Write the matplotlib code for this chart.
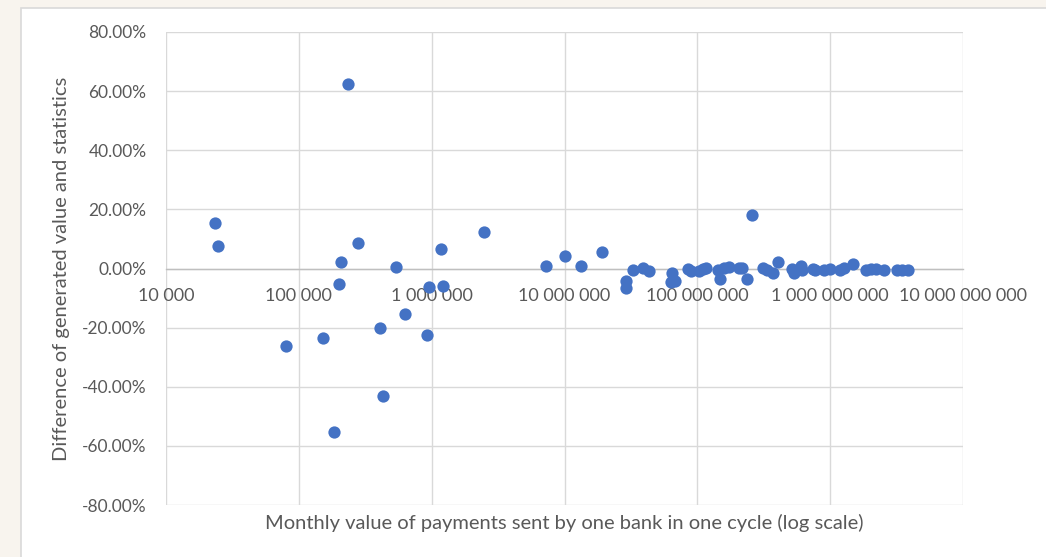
import matplotlib
matplotlib.use("Agg")
import matplotlib.pyplot as plt
from matplotlib.patches import Rectangle
from matplotlib.ticker import FixedLocator, FuncFormatter, NullLocator

# Monthly value of payments (x) and difference (%) (y)
payments = [
    23400, 24600, 80000, 152000, 184000, 201000, 208000, 235000, 279000,
    409000, 430000, 539000, 631000, 923000, 956000, 1177000, 1218000, 2480000,
    7270000, 10000000, 13300000, 19300000, 28800000, 29100000, 32700000,
    38800000, 43600000, 64300000, 63500000, 67500000, 84800000, 89500000,
    103000000, 111000000, 117000000, 142000000, 147000000, 158000000,
    174000000, 207000000, 218000000, 238000000, 257000000, 311000000,
    334000000, 370000000, 408000000, 514000000, 536000000, 601000000,
    612000000, 738000000, 770000000, 891000000, 1000000000, 1190000000,
    1270000000, 1480000000, 1860000000, 2020000000, 2220000000, 2550000000,
    3170000000, 3460000000, 3840000000,
]
difference = [
    15.4, 7.6, -26.2, -23.5, -55.3, -5.2, 2.2, 62.4, 8.6,
    -20.1, -43.1, 0.5, -15.4, -22.5, -6.2, 6.6, -5.9, 12.3,
    0.85, 4.1, 0.85, 5.6, -4.2, -6.7, -0.6,
    0.3, -0.7, -1.4, -4.5, -4.2, -0.3, -0.8,
    -1.0, -0.3, 0.1, -0.4, -3.6, 0.1,
    0.6, 0.1, 0.3, -3.6, 18.1, 0.1,
    -0.5, -1.6, 2.2, -0.2, -1.4, 1.0,
    -0.5, 0.0, -0.6, -0.4, -0.3, -0.5,
    0.1, 1.5, -0.5, -0.1, -0.1, -0.6,
    -0.6, -0.4, -0.4,
]

x_ticks = [1e4, 1e5, 1e6, 1e7, 1e8, 1e9, 1e10]
y_ticks = [-80, -60, -40, -20, 0, 20, 40, 60, 80]

plt.rcParams['font.family'] = ['Lato', 'DejaVu Sans']

W, H = 1046, 557
fig = plt.figure(figsize=(W / 100, H / 100), dpi=100, facecolor='#f8f4ee')
card = Rectangle((21 / W, -0.01), 1.0, 1 - 8 / H + 0.01, transform=fig.transFigure,
                 facecolor='white', edgecolor='#d9d9d9', linewidth=1.2, zorder=-5)
fig.patches.append(card)

ax = fig.add_axes([166 / W, 1 - 505 / H, (963 - 166) / W, (505 - 32) / H])
ax.set_zorder(1)
ax.patch.set_alpha(0)

ax.scatter(payments, difference, s=78, color='#4472C4', zorder=3, clip_on=False,
           linewidths=0)

ax.set_xscale('log')
ax.set_xlim(1e4, 1e10)
ax.set_ylim(-80, 80)

ax.xaxis.set_major_locator(FixedLocator(x_ticks))
ax.xaxis.set_minor_locator(NullLocator())
ax.xaxis.set_major_formatter(FuncFormatter(lambda v, p: f"{int(round(v)):,}".replace(',', ' ')))
ax.yaxis.set_major_locator(FixedLocator(y_ticks))
ax.yaxis.set_major_formatter(FuncFormatter(lambda v, p: f"{v:.2f}%"))

ax.grid(True, which='major', color='#d9d9d9', linewidth=1.0)
ax.set_axisbelow(True)

for s in ['top', 'right', 'left']:
    ax.spines[s].set_visible(False)
ax.spines['bottom'].set_position(('data', 0))
ax.spines['bottom'].set_color('#bfbfbf')
ax.spines['bottom'].set_linewidth(1.0)

ax.tick_params(axis='x', length=0, pad=14, labelsize=13, labelcolor='#595959')
ax.tick_params(axis='y', length=0, pad=14, labelsize=12.5, labelcolor='#595959')

ax.set_xlabel('Monthly value of payments sent by one bank in one cycle (log scale)',
              fontsize=14.5, color='#595959')
ax.xaxis.set_label_coords(0.5, -0.018)
ax.set_ylabel('Difference of generated value and statistics', fontsize=14.5, color='#595959')
ax.yaxis.set_label_coords(-0.12, 0.5)

fig.savefig('out.png', dpi=100, facecolor=fig.get_facecolor())
